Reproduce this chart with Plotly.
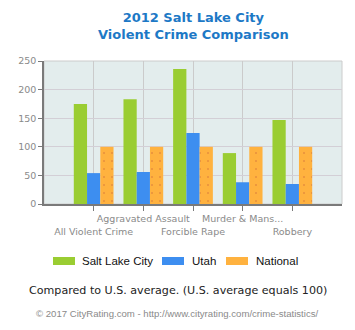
import plotly.graph_objects as go

# Violent crime rates relative to the U.S. average (U.S. = 100)
categories = ["All Violent Crime", "Aggravated Assault", "Forcible Rape",
              "Murder & Mans...", "Robbery"]
salt_lake_city = [175, 183, 236, 89, 147]
utah = [54, 56, 124, 38, 35]
national = [100, 100, 100, 100, 100]

series_names = ["Salt Lake City", "Utah", "National"]
series_colors = ["#9acd32", "#3d8ef0", "#ffb23f"]

W, H = 355, 330
L, R, T, B = 44, 13, 61, 126
plot_w = W - L - R
plot_h = H - T - B


def py(y_px):
    """Pixel row -> paper y."""
    return (H - B - y_px) / plot_h


def px(x_px):
    """Pixel column -> paper x."""
    return (x_px - L) / plot_w


# Alternate tick labels between two rows so they don't collide
tick_text = [c if i % 2 == 1 else "<br>" + c for i, c in enumerate(categories)]

fig = go.Figure()
fig.add_bar(x=categories, y=salt_lake_city, name=series_names[0],
            marker=dict(color=series_colors[0], line_width=0))
fig.add_bar(x=categories, y=utah, name=series_names[1],
            marker=dict(color=series_colors[1], line_width=0))
fig.add_bar(x=categories, y=national, name=series_names[2],
            marker=dict(color=series_colors[2], line_width=0,
                        pattern=dict(shape=".", fgcolor="#e8903c",
                                     bgcolor=series_colors[2],
                                     size=8, solidity=0.05,
                                     fillmode="replace")))

axis_font = dict(family="DejaVu Sans", size=9.5, color="#8a8a8a")

fig.update_layout(
    width=W, height=H,
    margin=dict(l=L, r=R, t=T, b=B, pad=0),
    paper_bgcolor="white",
    plot_bgcolor="#e3eded",
    barmode="group",
    bargap=0.2,
    bargroupgap=0,
    showlegend=False,
    xaxis=dict(
        type="category", range=[-1, 5],
        tickmode="array", tickvals=categories, ticktext=tick_text,
        showgrid=True, gridcolor="#cbcbcb", gridwidth=1,
        showline=True, linecolor="#7a7a7a", linewidth=1.5,
        ticks="outside", ticklen=5, tickcolor="#7a7a7a",
        tickfont=axis_font, tickangle=0,
    ),
    yaxis=dict(
        range=[0, 250], tickvals=[0, 50, 100, 150, 200, 250],
        showgrid=True, gridcolor="#d3cfd6", gridwidth=1,
        zeroline=False,
        showline=True, linecolor="#7a7a7a", linewidth=1.5,
        ticks="outside", ticklen=4, tickcolor="#7a7a7a",
        tickfont=axis_font,
    ),
    shapes=[
        dict(type="rect", xref="paper", yref="paper", x0=0, x1=1, y0=0, y1=1,
             line=dict(color="#cccccc", width=1), layer="below"),
    ],
)

annotations = [
    dict(text="<b>2012 Salt Lake City<br>Violent Crime Comparison</b>",
         x=0.5, xref="paper", y=py(26), yref="paper",
         xanchor="center", yanchor="middle", showarrow=False,
         font=dict(family="DejaVu Sans", size=13, color="#1d79c6")),
    dict(text="Compared to U.S. average. (U.S. average equals 100)",
         x=px(178), xref="paper", y=py(290), yref="paper",
         xanchor="center", yanchor="middle", showarrow=False,
         font=dict(family="DejaVu Sans", size=11.1, color="#222222")),
    dict(text="© 2017 CityRating.com - http://www.cityrating.com/crime-statistics/",
         x=px(177), xref="paper", y=py(313), yref="paper",
         xanchor="center", yanchor="middle", showarrow=False,
         font=dict(family="Liberation Sans", size=9.6, color="#8a8a8a")),
]

# Legend: colored swatches with labels below the chart
legend_items = [(53, 80), (162, 190), (226, 254)]
shapes = list(fig.layout.shapes)
for (sx, tx), name, color in zip(legend_items, series_names, series_colors):
    shapes.append(dict(type="rect", xref="paper", yref="paper",
                       x0=px(sx), x1=px(sx + 22), y0=py(265), y1=py(257),
                       fillcolor=color, line_width=0))
    annotations.append(dict(text=name, x=px(tx), xref="paper",
                            y=py(261), yref="paper",
                            xanchor="left", yanchor="middle", showarrow=False,
                            font=dict(family="Liberation Sans", size=11.5,
                                      color="#111111")))

fig.update_layout(shapes=shapes, annotations=annotations)

fig.write_html("out.html")
